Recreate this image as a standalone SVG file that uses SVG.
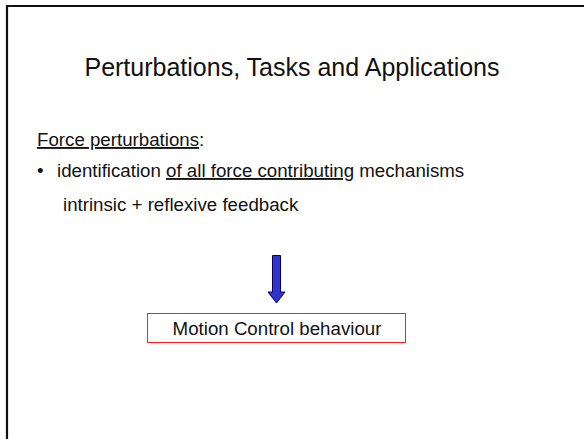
<svg xmlns="http://www.w3.org/2000/svg" width="584" height="439" viewBox="0 0 584 439">
  <style>
    .txt { font-family: "Liberation Sans", Arial, sans-serif; fill: #111; }
    .title { font-size: 25px; }
    .body { font-size: 18.7px; }
  </style>
  <rect x="0" y="0" width="584" height="439" fill="#fff"/>
  <!-- slide frame (top and left edges) -->
  <path d="M7 439 V6 H584" fill="none" stroke="#111" stroke-width="2.2"/>

  <g id="title">
    <text class="txt title" x="292" y="76" text-anchor="middle">Perturbations, Tasks and Applications</text>
  </g>

  <g id="bullets">
    <text class="txt body" x="37" y="146"><tspan text-decoration="underline">Force perturbations</tspan>:</text>
    <text class="txt body" x="37" y="177">•</text>
    <text class="txt body" x="57" y="177">identification <tspan text-decoration="underline">of all force contributing</tspan> mechanisms</text>
    <text class="txt body" x="63" y="211">intrinsic + reflexive feedback</text>
  </g>

  <g id="connectors">
    <path d="M272.5 255.5 H280.5 V292 H285 L276.5 303 L268 292 H272.5 Z" fill="#3333cc" stroke="#000066" stroke-width="1"/>
  </g>

  <g id="motion-control">
    <rect x="147.5" y="313.5" width="258" height="29" fill="#fff" stroke="#ff2020" stroke-width="1"/>
    <text class="txt body" x="277" y="335" text-anchor="middle">Motion Control behaviour</text>
  </g>
</svg>
